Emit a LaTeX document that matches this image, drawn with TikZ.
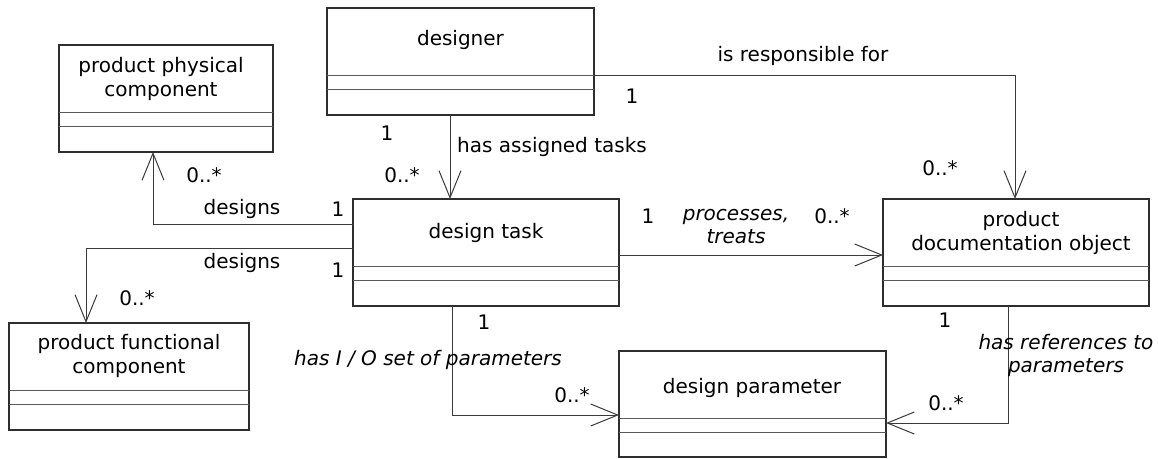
\documentclass[tikz,border=0pt]{standalone}
\usepackage{fontspec}
\setmainfont{DejaVu Sans}
\usetikzlibrary{arrows.meta}
\definecolor{boxline}{HTML}{2E2E2E}
\definecolor{sepline}{HTML}{5A5A5A}
\definecolor{linkline}{HTML}{3A3A3A}
\begin{document}
\begin{tikzpicture}[x=1pt,y=-1pt,
  font=\fontsize{20}{24}\selectfont,
  classbox/.style={draw=boxline, line width=1.4pt, fill=white, outer sep=0pt, inner sep=0pt},
  classname/.style={align=center, inner sep=0pt},
  divider/.style={draw=sepline, line width=1pt},
  assoc/.style={draw=linkline, line width=1pt, -{Straight Barb[length=27pt,width=22pt]}},
  mult/.style={inner sep=0pt},
  role/.style={inner sep=0pt, align=center},
  roleit/.style={inner sep=0pt, align=center, font=\fontsize{20}{23}\selectfont\itshape}]
\useasboundingbox (0,0) rectangle (1158,458);

% class boxes
\node[classbox, minimum width=267pt, minimum height=107pt] (des)   at (460.5,61.5) {};
\node[classbox, minimum width=214pt, minimum height=107pt] (phys)  at (166,98.5)   {};
\node[classbox, minimum width=266pt, minimum height=107pt] (task)  at (486,252.5)  {};
\node[classbox, minimum width=266pt, minimum height=107pt] (pdo)   at (1016,252.5) {};
\node[classbox, minimum width=240pt, minimum height=107pt] (func)  at (129,376.5)  {};
\node[classbox, minimum width=267pt, minimum height=106pt] (param) at (752.5,404)  {};

% attribute and operation compartments
\foreach \n in {des,phys,task,pdo,func,param} {
  \draw[divider] ([yshift=-67pt]\n.north west) -- ([yshift=-67pt]\n.north east);
  \draw[divider] ([yshift=-81pt]\n.north west) -- ([yshift=-81pt]\n.north east);
}

% class names
\node[classname] (des-name)   at (460.5,40)  {designer};
\node[classname] (phys-name)  at (161,79)    {product physical\\component};
\node[classname] (task-name)  at (486,233)   {design task};
\node[classname] (pdo-name)   at (1021,233)  {product\\documentation object};
\node[classname] (func-name)  at (129,356)   {product functional\\component};
\node[classname] (param-name) at (752,388)   {design parameter};

% associations
\draw[assoc] ([xshift=-10.5pt]des.south) -- ([xshift=-10.5pt]des.south |- task.north);
\draw[assoc] ([yshift=-13.5pt]des.east) -| ([xshift=-1pt]pdo.north);
\draw[assoc] ([yshift=-2.5pt]task.east) -- ([yshift=-2.5pt]task.east -| pdo.west);
\draw[assoc] ([yshift=28.5pt]task.west) -| ([xshift=-13pt]phys.south);
\draw[assoc] ([yshift=4.5pt]task.west) -| ([xshift=-43pt]func.north);
\draw[assoc] ([xshift=-34pt]task.south) |- ([yshift=-11pt]param.west);
\draw[assoc] ([xshift=-8pt]pdo.south) |- ([yshift=-19pt]param.east);

% designer -- design task
\node[mult] (m1) at (387,133) {1};
\node[role, anchor=west] (r1) at (457,147) {has assigned tasks};
\node[mult] (m2) at (402,175) {0..*};

% designer -- product documentation object
\node[role] (r2) at (803,56) {is responsible for};
\node[mult] (m3) at (632,96) {1};
\node[mult] (m4) at (940,168) {0..*};

% design task -- product documentation object
\node[mult] (m5) at (648,216) {1};
\node[roleit] (r3) at (736,227) {processes,\\treats};
\node[mult] (m6) at (832,216) {0..*};

% design task -- product physical component
\node[role] (r4) at (242,209) {designs};
\node[mult] (m7) at (338,209) {1};
\node[mult] (m8) at (204,175) {0..*};

% design task -- product functional component
\node[role] (r5) at (242,263) {designs};
\node[mult] (m9) at (338,270) {1};
\node[mult] (m10) at (137,298) {0..*};

% design task -- design parameter
\node[mult] (m11) at (484,322) {1};
\node[roleit] (r6) at (428,360) {has I / O set of parameters};
\node[mult] (m12) at (572,395) {0..*};

% product documentation object -- design parameter
\node[mult] (m13) at (945,320) {1};
\node[roleit] (r7) at (1066,355) {has references to\\parameters};
\node[mult] (m14) at (946,403) {0..*};
\end{tikzpicture}
\end{document}
